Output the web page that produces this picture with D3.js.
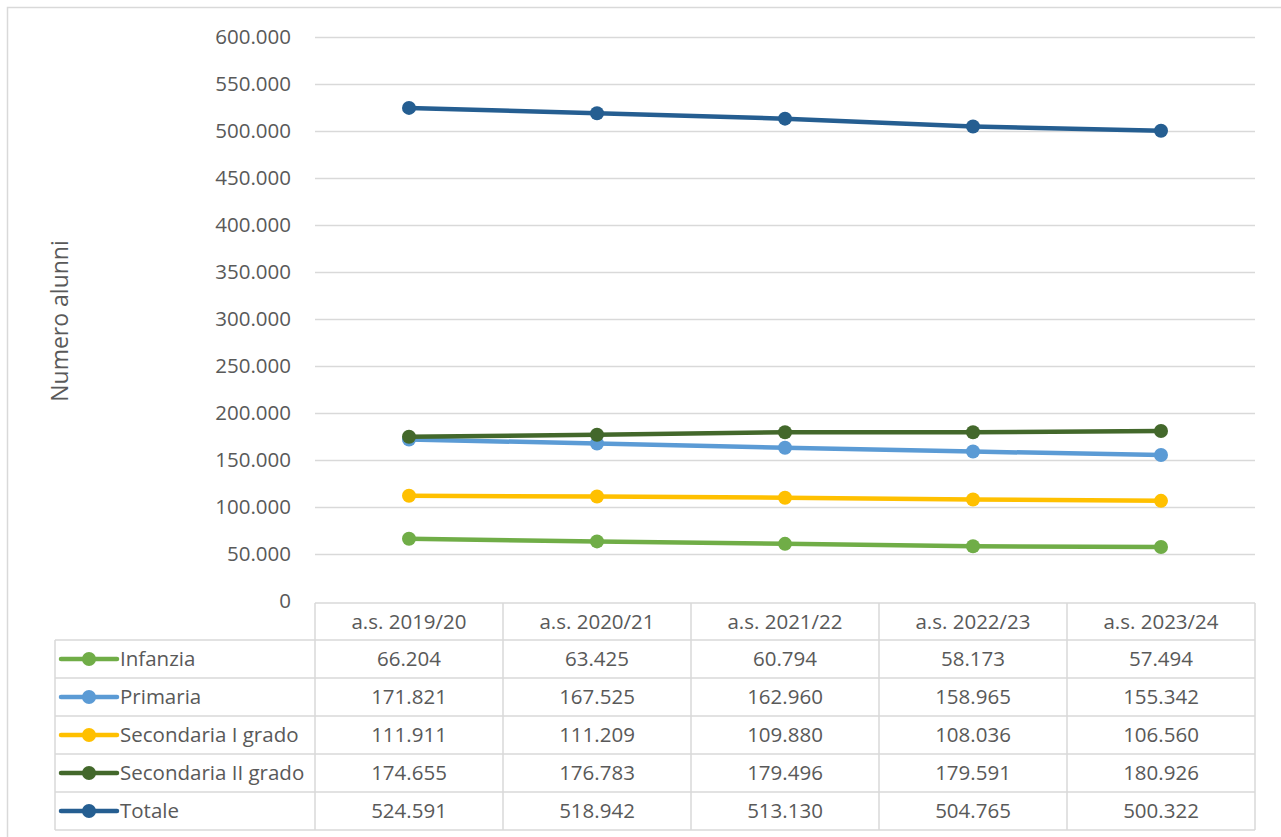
<!DOCTYPE html>
<html>
<head>
<meta charset="utf-8">
<script src="https://cdn.jsdelivr.net/npm/d3@7"></script>
<style>
  html, body { margin: 0; padding: 0; background: #fff; overflow: hidden; }
  svg text { font-family: "Open Sans", "Noto Sans", sans-serif; fill: #595959; }
</style>
</head>
<body>
<div id="chart"></div>
<script>
const years = ['a.s. 2019/20', 'a.s. 2020/21', 'a.s. 2021/22', 'a.s. 2022/23', 'a.s. 2023/24'];
const infanzia = [66204, 63425, 60794, 58173, 57494];
const primaria = [171821, 167525, 162960, 158965, 155342];
const secondariaI = [111911, 111209, 109880, 108036, 106560];
const secondariaII = [174655, 176783, 179496, 179591, 180926];
const totale = [524591, 518942, 513130, 504765, 500322];
const yTicks = [0, 50000, 100000, 150000, 200000, 250000, 300000, 350000, 400000, 450000, 500000, 550000, 600000];

const series = [
  {name: 'Infanzia', values: infanzia, color: '#70AD47'},
  {name: 'Primaria', values: primaria, color: '#5B9BD5'},
  {name: 'Secondaria I grado', values: secondariaI, color: '#FFC000'},
  {name: 'Secondaria II grado', values: secondariaII, color: '#43682B'},
  {name: 'Totale', values: totale, color: '#255E91'}
];

const width = 1281, height = 837;
const plotLeft = 315, plotRight = 1255, plotTop = 37, plotBottom = 601;
const tableTop = 603, headerH = 37, rowH = 38, legendLeft = 55;
const fs = 20.5;

// Italian-style thousands separator
const fmt = d3.formatLocale({decimal: ',', thousands: '.', grouping: [3], currency: ['€', '']}).format(',d');

const svg = d3.select('#chart').append('svg')
  .attr('width', width)
  .attr('height', height);

// outer chart frame
svg.append('rect')
  .attr('x', 7.5).attr('y', 7.5)
  .attr('width', width + 20).attr('height', height + 20)
  .attr('fill', 'none').attr('stroke', '#D9D9D9').attr('stroke-width', 1.5);

const x = d3.scalePoint().domain(years).range([plotLeft, plotRight]).padding(0.5);
const colW = x.step();
const y = d3.scaleLinear().domain([0, 600000]).range([plotBottom, plotTop]);

// gridlines + tick labels
const yAxis = d3.axisLeft(y).tickValues(yTicks).tickSize(-(plotRight - plotLeft)).tickFormat(d => d === 0 ? '0' : fmt(d)).tickPadding(24);
const gy = svg.append('g').attr('transform', `translate(${plotLeft},0)`).call(yAxis);
gy.select('.domain').remove();
gy.selectAll('.tick line').attr('stroke', '#D9D9D9').attr('stroke-width', 1.5)
  .filter(d => d === 0).remove();
gy.selectAll('.tick text').attr('font-size', fs).attr('fill', '#595959')
  .style('font-family', '"Open Sans", "Noto Sans", sans-serif');

// y axis title
svg.append('text')
  .attr('transform', `translate(68,${(plotTop + plotBottom) / 2 + 2}) rotate(-90)`)
  .attr('text-anchor', 'middle')
  .attr('font-size', 23)
  .text('Numero alunni');

// lines
const line = d3.line().x((d, i) => x(years[i])).y(d => y(d));
series.forEach(s => {
  svg.append('path')
    .datum(s.values)
    .attr('d', line)
    .attr('fill', 'none')
    .attr('stroke', s.color)
    .attr('stroke-width', 4.5)
    .attr('stroke-linejoin', 'round');
  svg.selectAll(null).data(s.values).enter().append('circle')
    .attr('cx', (d, i) => x(years[i]))
    .attr('cy', d => y(d))
    .attr('r', 7)
    .attr('fill', s.color);
});

// data table
const tbl = svg.append('g');
const gridColor = '#D9D9D9';
const tableBottom = tableTop + headerH + rowH * series.length;

// header row
years.forEach(yr => {
  tbl.append('text')
    .attr('x', x(yr)).attr('y', tableTop + headerH / 2 + 7)
    .attr('text-anchor', 'middle').attr('font-size', fs)
    .text(yr);
});

// horizontal lines
tbl.append('line').attr('x1', plotLeft).attr('x2', plotRight)
  .attr('y1', tableTop).attr('y2', tableTop)
  .attr('stroke', gridColor).attr('stroke-width', 1.5);
d3.range(series.length + 1).forEach(i => {
  const yy = tableTop + headerH + i * rowH;
  tbl.append('line').attr('x1', legendLeft).attr('x2', plotRight)
    .attr('y1', yy).attr('y2', yy)
    .attr('stroke', gridColor).attr('stroke-width', 1.5);
});
// vertical lines
tbl.append('line').attr('x1', legendLeft).attr('x2', legendLeft)
  .attr('y1', tableTop + headerH).attr('y2', tableBottom)
  .attr('stroke', gridColor).attr('stroke-width', 1.5);
d3.range(years.length + 1).forEach(i => {
  const xx = plotLeft + i * colW;
  tbl.append('line').attr('x1', xx).attr('x2', xx)
    .attr('y1', tableTop).attr('y2', tableBottom)
    .attr('stroke', gridColor).attr('stroke-width', 1.5);
});

// rows
series.forEach((s, r) => {
  const cy = tableTop + headerH + r * rowH + rowH / 2;
  tbl.append('line').attr('x1', legendLeft + 6).attr('x2', legendLeft + 62)
    .attr('y1', cy).attr('y2', cy)
    .attr('stroke', s.color).attr('stroke-width', 4.5).attr('stroke-linecap', 'round');
  tbl.append('circle').attr('cx', legendLeft + 34).attr('cy', cy).attr('r', 7).attr('fill', s.color);
  tbl.append('text')
    .attr('x', legendLeft + 65).attr('y', cy + 7)
    .attr('font-size', fs)
    .text(s.name);
  s.values.forEach((v, i) => {
    tbl.append('text')
      .attr('x', x(years[i])).attr('y', cy + 7)
      .attr('text-anchor', 'middle').attr('font-size', fs)
      .text(fmt(v));
  });
});
</script>
</body>
</html>
